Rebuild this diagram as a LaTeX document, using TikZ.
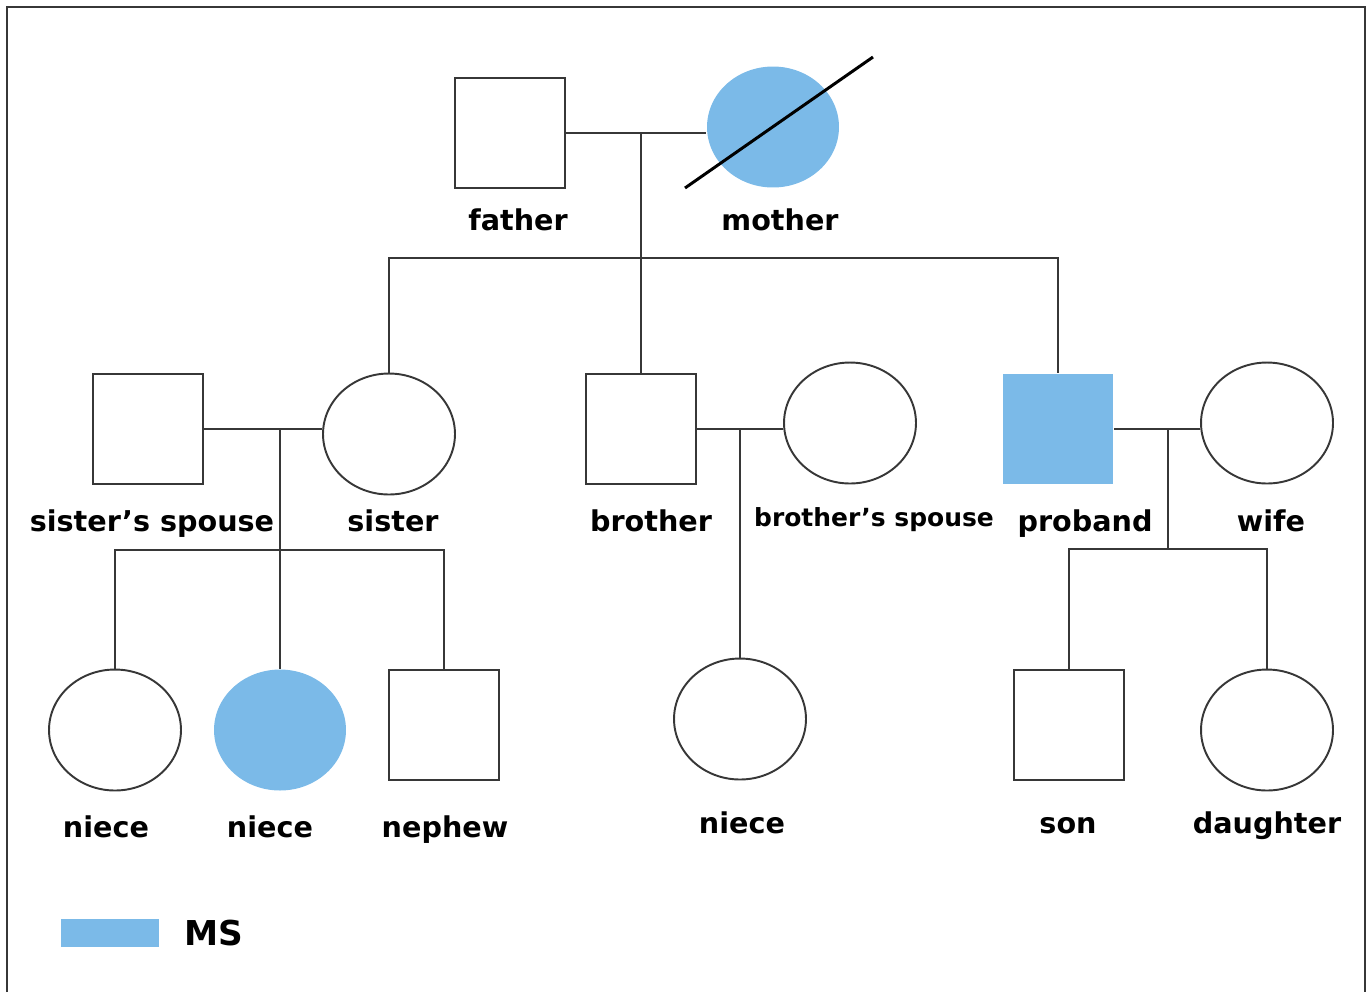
\documentclass[tikz,border=0pt]{standalone}
\usepackage{fontspec}
\setmainfont{DejaVu Sans}
\usepackage{tikz}
\usetikzlibrary{shapes.geometric, positioning}
\definecolor{msblue}{RGB}{123,186,232}
\definecolor{pedline}{RGB}{55,55,55}
\tikzset{
    male/.style={rectangle, draw=pedline, line width=1.1pt, minimum size=2.2cm, inner sep=0pt},
    female/.style={ellipse, draw=pedline, line width=1.1pt, minimum width=2.64cm, minimum height=2.42cm, inner sep=0pt},
    affected/.style={fill=msblue, draw=none},
    tag/.style={anchor=base, inner sep=0pt, font=\bfseries\fontsize{16.3}{19}\selectfont},
    link/.style={draw=pedline, line width=1.1pt}
}

\begin{document}
\begin{tikzpicture}[x=0.02cm, y=-0.02cm]
        \useasboundingbox (0,0) rectangle (1372,992);
        \draw[pedline, line width=1.2pt] (7,992) -- (7,7) -- (1365,7) -- (1365,992);

        % Parents
        \node (Father) [male] at (510,133) {};
        \node (Mother) [female, affected] at (773,127) {};
        \draw[black, line width=1.7pt] (685,188) -- (873,57); % deceased
        \node (Father_label) [tag] at (518,230) {father};
        \node (Mother_label) [tag] at (780,230) {mother};

        % Children and their partners
        \node (SisSpouse) [male] at (148,429) {};
        \node (Sister) [female] at (389,434) {};
        \node (Brother) [male] at (641,429) {};
        \node (BroSpouse) [female] at (850,423) {};
        \node (Proband) [male, affected] at (1058,429) {};
        \node (Wife) [female] at (1267,423) {};

        \node (SisSpouse_label) [tag] at (152,531) {sister’s spouse};
        \node (Sister_label) [tag] at (393,531) {sister};
        \node (Brother_label) [tag] at (651,531) {brother};
        \node (BroSpouse_label) [tag, font=\bfseries\fontsize{14.2}{17}\selectfont] at (874,526) {brother’s spouse};
        \node (Proband_label) [tag] at (1085,531) {proband};
        \node (Wife_label) [tag] at (1271,531) {wife};

        % Grandchildren
        \node (Niece1) [female] at (115,730) {};
        \node (Niece2) [female, affected] at (280,730) {};
        \node (Nephew) [male] at (444,725) {};
        \node (Niece3) [female] at (740,719) {};
        \node (Son) [male] at (1069,725) {};
        \node (Daughter) [female] at (1267,730) {};

        \node (Niece1_label) [tag] at (106,837) {niece};
        \node (Niece2_label) [tag] at (270,837) {niece};
        \node (Nephew_label) [tag] at (445,837) {nephew};
        \node (Niece3_label) [tag] at (742,833) {niece};
        \node (Son_label) [tag] at (1068,833) {son};
        \node (Daughter_label) [tag] at (1267,833) {daughter};

        % Parents' line of descent
        \coordinate (PMid) at (641,133);
        \coordinate (PSib) at (641,258);
        \draw[link] (Father.east) -- (Father.east -| Mother.west);
        \draw[link] (PMid) -- (PSib);
        \draw[link] (Sister.north) |- (PSib) -| (Proband.north);
        \draw[link] (PSib) -- (Brother.north);

        % Sister's family
        \coordinate (SMid) at (280,429);
        \coordinate (SSib) at (280,550);
        \draw[link] (SisSpouse.east) -- (SisSpouse.east -| Sister.west);
        \draw[link] (SMid) -- (Niece2.north);
        \draw[link] (Niece1.north) |- (SSib) -| (Nephew.north);

        % Brother's family
        \coordinate (BMid) at (740,429);
        \draw[link] (Brother.east) -- (Brother.east -| BroSpouse.west);
        \draw[link] (BMid) -- (Niece3.north);

        % Proband's family
        \coordinate (WMid) at (1168,429);
        \coordinate (WSib) at (1168,549);
        \draw[link] (Proband.east) -- (Proband.east -| Wife.west);
        \draw[link] (WMid) -- (WSib);
        \draw[link] (Son.north) |- (WSib) -| (Daughter.north);

        % Legend
        \node (Legend) [rectangle, fill=msblue, minimum width=1.98cm, minimum height=0.56cm, inner sep=0pt] at (110,933) {};
        \node (Legend_label) [tag, anchor=base west, font=\bfseries\fontsize{19.5}{23}\selectfont] at (184,945) {MS};
    \end{tikzpicture}
\end{document}
